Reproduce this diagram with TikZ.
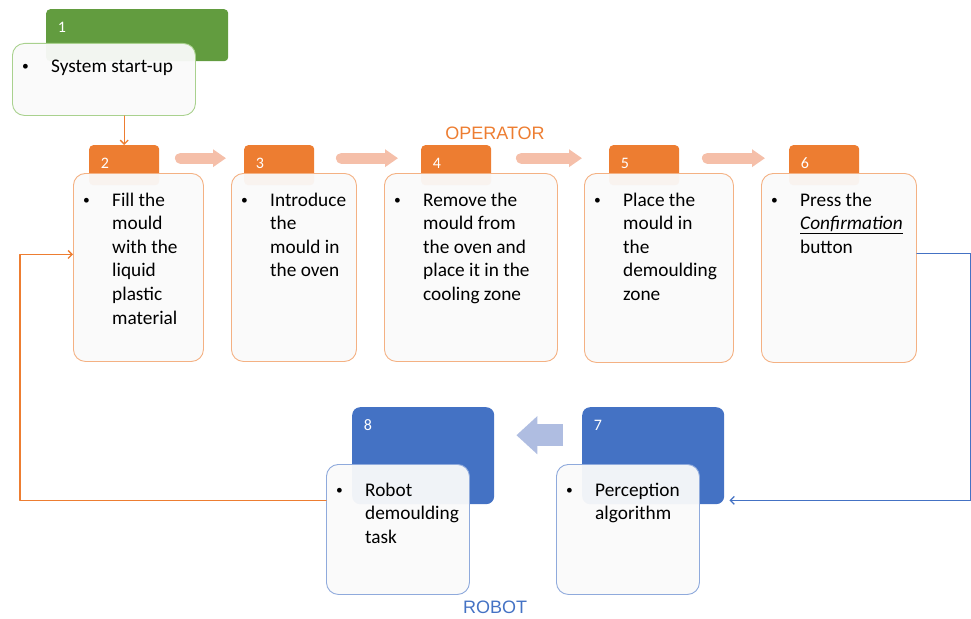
\documentclass[tikz,border=0pt]{standalone}
\usepackage{fontspec}
\setmainfont{Carlito}
\newfontfamily\lanefont{Liberation Sans}
\usepackage{tikz}
\usetikzlibrary{arrows.meta,positioning}
\definecolor{opOrange}{HTML}{ED7D31}
\definecolor{opOrangeLine}{HTML}{F4B183}
\definecolor{opOrangePale}{HTML}{F5BFA9}
\definecolor{stGreen}{HTML}{629C3F}
\definecolor{stGreenLine}{HTML}{A9D18E}
\definecolor{rbBlue}{HTML}{4472C4}
\definecolor{rbBlueLine}{HTML}{8FAADC}
\definecolor{rbBluePale}{HTML}{AFBDE1}
\definecolor{cardFill}{HTML}{FAFAFA}
\tikzset{
  head/.style={anchor=north west, inner sep=0pt, rounded corners=4pt},
  card/.style={anchor=north west, inner sep=0pt, rounded corners=12pt, line width=0.9pt,
    fill=cardFill, fill opacity=0.95},
  num/.style={text=white, inner sep=0pt, font=\fontsize{16}{18}\selectfont},
  body/.style={anchor=base west, inner sep=0pt, font=\fontsize{19.3}{23.6}\selectfont},
  lane/.style={inner sep=0pt, font=\lanefont\fontsize{18}{20}\selectfont},
  flowarrow/.style={line width=11pt, draw=opOrangePale, -{Triangle[length=13pt,width=17pt]}},
  backarrow/.style={line width=22pt, draw=rbBluePale, -{Triangle[length=21pt,width=37pt]}},
}
\newcommand\bulitem[1]{\makebox[30pt][l]{\hspace{1pt}\raisebox{1.6pt}{\scalebox{0.7}{\textbullet}}}\begin{tabular}[t]{@{}l@{}}#1\end{tabular}}

\begin{document}
\begin{tikzpicture}[x=1pt,y=-1pt,line cap=round,line join=round,>={Straight Barb[length=4pt,width=8pt]}]
	\useasboundingbox (0,0) rectangle (971,618);
	% step headers
	\node[head, fill=stGreen, minimum width=182pt, minimum height=52pt] (h1) at (46,9) {};
	\node[head, fill=opOrange, minimum width=70pt, minimum height=40pt] (h2) at (89,145) {};
	\node[head, fill=opOrange, minimum width=70pt, minimum height=40pt] (h3) at (244,145) {};
	\node[head, fill=opOrange, minimum width=70pt, minimum height=40pt] (h4) at (421,145) {};
	\node[head, fill=opOrange, minimum width=70pt, minimum height=40pt] (h5) at (609,145) {};
	\node[head, fill=opOrange, minimum width=70pt, minimum height=40pt] (h6) at (789,145) {};
	\node[head, fill=rbBlue, rounded corners=8pt, minimum width=142pt, minimum height=97pt] (h7) at (582,407) {};
	\node[head, fill=rbBlue, rounded corners=8pt, minimum width=142pt, minimum height=97pt] (h8) at (352,407) {};
	\foreach \k in {1,...,8}
	\node[num] (n\k) at ([shift={(16pt,-18pt)}]h\k.north west) {\k};
	% cards
	\node[card, draw=stGreenLine, minimum width=183pt, minimum height=72pt] (s1) at (12,43) {};
	\node[card, draw=opOrangeLine, minimum width=130pt, minimum height=188pt] (s2) at (73,173) {};
	\node[card, draw=opOrangeLine, minimum width=125pt, minimum height=188pt] (s3) at (231,173) {};
	\node[card, draw=opOrangeLine, minimum width=173pt, minimum height=188pt] (s4) at (384,173) {};
	\node[card, draw=opOrangeLine, minimum width=149pt, minimum height=189pt] (s5) at (584,173) {};
	\node[card, draw=opOrangeLine, minimum width=155pt, minimum height=189pt] (s6) at (761,173) {};
	\node[card, draw=rbBlueLine, minimum width=143pt, minimum height=130pt] (s7) at (556,464) {};
	\node[card, draw=rbBlueLine, minimum width=143pt, minimum height=130pt] (s8) at (326,464) {};
	% card texts
	\node[body] (t1) at ([shift={(9pt,-29pt)}]s1.north west) {\bulitem{System start-up}};
	\node[body] (t2) at ([shift={(9pt,-33pt)}]s2.north west) {\bulitem{Fill the\\mould\\with the\\liquid\\plastic\\material}};
	\node[body] (t3) at ([shift={(9pt,-33pt)}]s3.north west) {\bulitem{Introduce\\the\\mould in\\the oven}};
	\node[body] (t4) at ([shift={(9pt,-33pt)}]s4.north west) {\bulitem{Remove the\\mould from\\the oven and\\place it in the\\cooling zone}};
	\node[body] (t5) at ([shift={(9pt,-33pt)}]s5.north west) {\bulitem{Place the\\mould in\\the\\demoulding\\zone}};
	\node[body] (t6) at ([shift={(9pt,-33pt)}]s6.north west) {\bulitem{Press the\\\underline{\textit{Confirmation}}\\button}};
	\node[body] (t7) at ([shift={(9pt,-32pt)}]s7.north west) {\bulitem{Perception\\algorithm}};
	\node[body] (t8) at ([shift={(9pt,-32pt)}]s8.north west) {\bulitem{Robot\\demoulding\\task}};
	% lane names
	\node[lane, text=opOrange] (operator) at (495,133) {OPERATOR};
	\node[lane, text=rbBlue] (robot) at (495,607) {ROBOT};
	% block arrows
	\draw[flowarrow] ([shift={(21pt,7pt)}]h2.east) -- ([shift={(-18pt,7pt)}]h3.west);
	\draw[flowarrow] ([shift={(27pt,7pt)}]h3.east) -- ([shift={(-23pt,7pt)}]h4.west);
	\draw[flowarrow] ([shift={(30pt,7pt)}]h4.east) -- ([shift={(-27pt,7pt)}]h5.west);
	\draw[flowarrow] ([shift={(28pt,7pt)}]h5.east) -- ([shift={(-24pt,7pt)}]h6.west);
	\draw[backarrow, line cap=butt] ([shift={(-19pt,20.5pt)}]h7.west) -- ([shift={(22pt,20.5pt)}]h8.east);
	% connectors
	\draw[->, color=opOrange, line width=1.3pt] (s1.south -| h2.north) -- (h2.north);
	\draw[->, color=rbBlue, line width=1.3pt] ([yshift=14.5pt]s6.east) -- ++(54pt,0pt) |- ([shift={(5pt,4pt)}]h7.south east);
	\draw[->, color=opOrange, line width=1.3pt] ([yshift=29pt]s8.west) -- ++(-306pt,0pt) |- ([yshift=13pt]s2.west);
\end{tikzpicture}
\end{document}
